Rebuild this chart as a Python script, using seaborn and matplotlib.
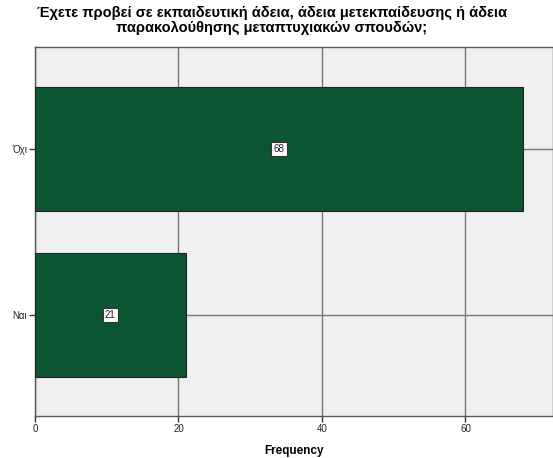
import matplotlib
matplotlib.use("Agg")
import matplotlib.pyplot as plt
import seaborn as sns
import pandas as pd

# Responses and their counts
categories = ["Όχι", "Ναι"]
counts = [68, 21]
x_ticks = [0, 20, 40, 60]

title = ("Έχετε προβεί σε εκπαιδευτική άδεια, άδεια μετεκπαίδευσης ή άδεια\n"
         "παρακολούθησης μεταπτυχιακών σπουδών;")

sns.set_style("white")
plt.rcParams["font.family"] = ["Liberation Sans", "DejaVu Sans"]

df = pd.DataFrame({"answer": categories, "count": counts})

fig = plt.figure(figsize=(5.53, 4.58), dpi=100)
ax = fig.add_axes([35 / 553, 1 - 416 / 458, 1 - 35 / 553, (416 - 47) / 458])
ax.set_facecolor("#f0f0f0")

sns.barplot(data=df, x="count", y="answer", order=categories, orient="h",
            color="#0b5530", saturation=1, width=0.75,
            edgecolor="#222222", linewidth=0.8, ax=ax, zorder=3)

ax.set_xlim(0, 72.2)
ax.set_ylim(1.608, -0.614)
ax.set_xticks(x_ticks)
ax.set_xticklabels([str(t) for t in x_ticks])

ax.grid(True, axis="both", color="#777777", linewidth=1.0, zorder=1)
ax.set_axisbelow(True)

for s in ["left", "bottom", "top", "right"]:
    ax.spines[s].set_color("#555555")
    ax.spines[s].set_linewidth(1.0)

ax.tick_params(axis="both", which="major", length=4, width=1, color="#333333",
               labelsize=7, labelcolor="#222222", pad=2,
               bottom=True, left=True)

ax.set_xlabel("Frequency", fontsize=8.5, fontweight="bold", labelpad=8,
              color="black")
ax.set_ylabel("")

# Value labels in boxes at the bar centres
for i, v in enumerate(counts):
    ax.text(v / 2, i, str(v), ha="center", va="center", fontsize=7,
            color="#222222", zorder=5,
            bbox=dict(boxstyle="square,pad=0.25", facecolor="white",
                      edgecolor="#333333", linewidth=0.8))

fig.text(272 / 553, 1 - 6 / 458, title, ha="center", va="top",
         fontsize=10.5, fontweight="bold", linespacing=1.05,
         multialignment="center", color="black")

fig.savefig("out.png", dpi=100, facecolor="white")
